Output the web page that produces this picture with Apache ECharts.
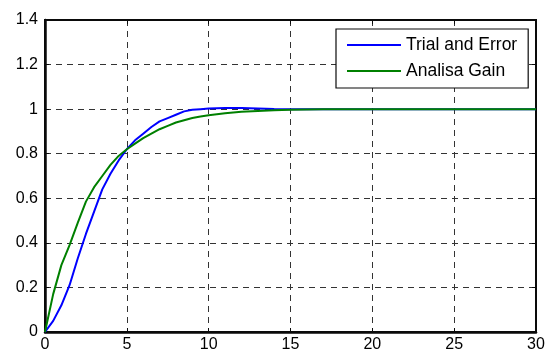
<!DOCTYPE html>
<html><head><meta charset="utf-8">
<script src="https://cdn.jsdelivr.net/npm/echarts@6/dist/echarts.min.js"></script>
<style>html,body{margin:0;padding:0;background:#fff}#c{width:553px;height:354px}</style>
</head><body><div id="c"></div>
<script>
var time = [0,0.5,1,1.5,2,2.5,3,3.5,4,4.5,5,5.5,6,6.5,7,7.5,8,8.5,9,9.5,10,11,12,13,14,15,16,17,18,20,22,24,26,28,30];
var trialError = [0,0.05,0.12,0.21,0.33,0.44,0.54,0.64,0.71,0.77,0.82,0.86,0.89,0.92,0.945,0.96,0.975,0.99,0.997,1.0,1.003,1.005,1.005,1.003,1.001,1.0,1.0,1.0,1.0,1.0,1.0,1.0,1.0,1.0,1.0];
var analisaGain = [0,0.17,0.30,0.39,0.49,0.585,0.65,0.70,0.75,0.79,0.82,0.845,0.87,0.89,0.91,0.925,0.94,0.95,0.96,0.967,0.973,0.982,0.988,0.992,0.995,0.997,0.998,0.999,1.0,1.0,1.0,1.0,1.0,1.0,1.0];
var seriesNames = ['Trial and Error','Analisa Gain'];
var xTicks = [0,5,10,15,20,25,30];
var yTicks = [0,0.2,0.4,0.6,0.8,1,1.2,1.4];

function pairs(xs, ys){ return xs.map(function(x,i){ return [x, ys[i]]; }); }
var font = {fontFamily:'Liberation Sans, Arial, sans-serif', fontSize:16, color:'#000'};
var boxColor = 'rgb(10,10,10)';
var chart = echarts.init(document.getElementById('c'));
chart.setOption({
  animation:false,
  backgroundColor:'#fff',
  grid:{left:45,right:17,top:20,bottom:22,containLabel:false,show:true,borderColor:boxColor,borderWidth:2,backgroundColor:'transparent'},
  legend:{
    orient:'vertical', left:336, top:29,
    padding:[7,11,8,11], itemGap:8, itemWidth:54, itemHeight:2, itemTextGap:6,
    backgroundColor:'#fff', borderColor:boxColor, borderWidth:1.2, borderRadius:0,
    icon:'rect',
    textStyle:{fontFamily:'Liberation Sans, Arial, sans-serif', fontSize:17.5, color:'#000'},
    data:seriesNames
  },
  xAxis:[{
    type:'value', min:xTicks[0], max:xTicks[xTicks.length-1], interval:5,
    axisLine:{show:true,onZero:false,lineStyle:{color:boxColor,width:2.5}},
    axisTick:{show:true,inside:true,length:4,lineStyle:{color:boxColor}},
    axisLabel:Object.assign({margin:5},font),
    splitLine:{show:true,lineStyle:{color:'#333',type:[6,5],width:1}}
  },{
    type:'value', position:'top', min:0, max:30, interval:5,
    axisLine:{show:true,onZero:false,lineStyle:{color:boxColor,width:2}},
    axisTick:{show:true,inside:true,length:4,lineStyle:{color:boxColor}},
    axisLabel:{show:false}, splitLine:{show:false}
  }],
  yAxis:[{
    type:'value', min:yTicks[0], max:yTicks[yTicks.length-1], interval:0.2,
    axisLine:{show:true,onZero:false,lineStyle:{color:boxColor,width:2.5}},
    axisTick:{show:true,inside:true,length:4,lineStyle:{color:boxColor}},
    axisLabel:Object.assign({margin:7},font),
    splitLine:{show:true,lineStyle:{color:'#333',type:[6,5],width:1}}
  },{
    type:'value', position:'right', min:0, max:1.4, interval:0.2,
    axisLine:{show:true,onZero:false,lineStyle:{color:boxColor,width:2}},
    axisTick:{show:true,inside:true,length:4,lineStyle:{color:boxColor}},
    axisLabel:{show:false}, splitLine:{show:false}
  }],
  series:[{
    name:seriesNames[0], type:'line', data:pairs(time,trialError),
    showSymbol:false, symbol:'none', lineStyle:{color:'#0000ff',width:2}, itemStyle:{color:'#0000ff'}, z:2
  },{
    name:seriesNames[1], type:'line', data:pairs(time,analisaGain),
    showSymbol:false, symbol:'none', lineStyle:{color:'#008000',width:2}, itemStyle:{color:'#008000'}, z:3
  }]
});
</script></body></html>
